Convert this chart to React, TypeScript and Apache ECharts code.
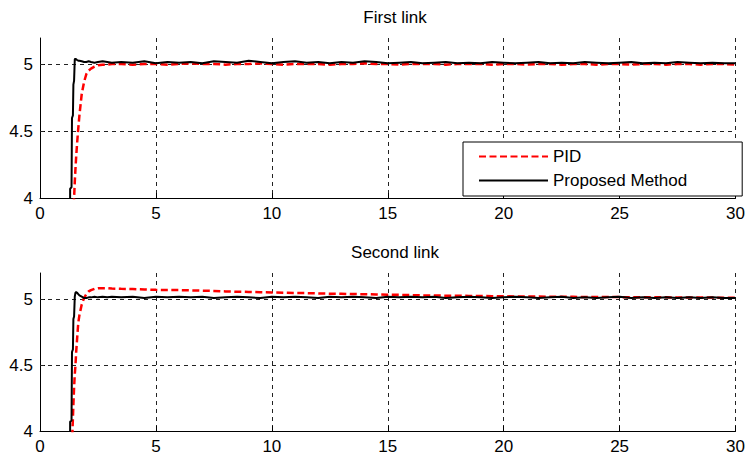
import React, { useEffect, useRef } from "react";
import * as echarts from "echarts";

// time samples (s)
const times = [
  1.28, 1.30, 1.36, 1.38, 1.42, 1.44, 1.47, 1.50, 1.53, 1.56,
  1.60, 1.65, 1.70, 1.80, 1.90, 2.00, 2.10, 2.20, 2.35, 2.50,
  2.70, 2.90, 3.10,
  3.5, 4.0, 4.5, 5.0, 5.5, 6.0, 6.5, 7.0, 7.5, 8.0,
  8.5, 9.0, 9.5, 10.0, 10.5, 11.0, 11.5, 12.0, 12.5, 13.0,
  13.5, 14.0, 14.5, 15.0, 15.5, 16.0, 16.5, 17.0, 17.5, 18.0,
  18.5, 19.0, 19.5, 20.0, 20.5, 21.0, 21.5, 22.0, 22.5, 23.0,
  23.5, 24.0, 24.5, 25.0, 25.5, 26.0, 26.5, 27.0, 27.5, 28.0,
  28.5, 29.0, 29.5, 30.0,
];

// First link
const pidFirst = [
  3.0, 3.2, 3.5, 3.6, 3.8, 3.9, 4.0, 4.12, 4.22, 4.31,
  4.41, 4.52, 4.62, 4.78, 4.87, 4.93, 4.955, 4.97, 4.985, 4.995,
  5.0, 5.0, 5.005,
  5.005, 5.0, 5.005, 5.005, 5.0, 5.005, 5.01, 5.005, 5.005, 5.0,
  5.005, 5.005, 5.01, 5.005, 5.0, 5.005, 5.005, 5.005, 5.0, 5.005,
  5.005, 5.01, 5.005, 5.005, 5.0, 5.005, 5.005, 5.005, 5.0, 5.005,
  5.005, 5.005, 5.0, 5.005, 5.005, 5.0, 5.005, 5.005, 5.0, 5.005,
  5.005, 5.0, 5.005, 5.005, 5.0, 5.005, 5.005, 5.0, 5.005, 5.005,
  5.0, 5.005, 5.005, 5.0,
];
const proposedFirst = [
  3.0, 4.07, 4.08, 4.6, 4.62, 4.85, 4.88, 5.04, 5.045, 5.04,
  5.035, 5.03, 5.03, 5.025, 5.02, 5.02, 5.025, 5.02, 5.015, 5.02,
  5.025, 5.02, 5.015,
  5.02, 5.015, 5.025, 5.01, 5.02, 5.015, 5.02, 5.01, 5.025, 5.02,
  5.015, 5.03, 5.02, 5.01, 5.02, 5.025, 5.015, 5.02, 5.01, 5.02,
  5.015, 5.025, 5.02, 5.01, 5.015, 5.02, 5.01, 5.015, 5.02, 5.01,
  5.015, 5.01, 5.02, 5.015, 5.01, 5.015, 5.02, 5.01, 5.015, 5.01,
  5.02, 5.015, 5.01, 5.015, 5.02, 5.01, 5.015, 5.01, 5.02, 5.015,
  5.01, 5.015, 5.01, 5.01,
];

// Second link
const pidSecond = [
  3.0, 3.2, 3.7, 3.9, 4.1, 4.2, 4.33, 4.43, 4.5, 4.6,
  4.7, 4.82, 4.88, 4.96, 5.01, 5.04, 5.06, 5.07, 5.08, 5.085,
  5.085, 5.085, 5.082,
  5.08, 5.078, 5.075, 5.072, 5.07, 5.07, 5.068, 5.066, 5.064, 5.06,
  5.058, 5.056, 5.054, 5.052, 5.05, 5.048, 5.047, 5.045, 5.043, 5.042,
  5.04, 5.039, 5.037, 5.035, 5.034, 5.032, 5.03, 5.029, 5.028, 5.027,
  5.026, 5.025, 5.024, 5.023, 5.022, 5.022, 5.021, 5.02, 5.02, 5.019,
  5.018, 5.018, 5.017, 5.017, 5.016, 5.016, 5.015, 5.015, 5.014, 5.014,
  5.013, 5.013, 5.012, 5.012,
];
const proposedSecond = [
  3.0, 4.07, 4.08, 4.6, 4.62, 4.85, 4.87, 5.02, 5.05, 5.055,
  5.05, 5.04, 5.03, 5.02, 5.01, 5.01, 5.015, 5.015, 5.02, 5.015,
  5.02, 5.015, 5.02,
  5.015, 5.02, 5.01, 5.02, 5.015, 5.02, 5.015, 5.02, 5.01, 5.015,
  5.02, 5.015, 5.01, 5.02, 5.015, 5.02, 5.015, 5.01, 5.02, 5.015,
  5.02, 5.015, 5.01, 5.02, 5.015, 5.02, 5.015, 5.02, 5.01, 5.015,
  5.02, 5.015, 5.01, 5.015, 5.02, 5.015, 5.01, 5.015, 5.02, 5.01,
  5.015, 5.01, 5.015, 5.02, 5.01, 5.015, 5.01, 5.015, 5.01, 5.015,
  5.01, 5.015, 5.01, 5.01,
];

const xTicks = [0, 5, 10, 15, 20, 25, 30];
const yTicks = [4, 4.5, 5];
const yGrid = [4.5, 5];
const titles = ["First link", "Second link"];
const legendNames = ["PID", "Proposed Method"];

const FONT = "'Liberation Sans', Arial, sans-serif";

export default function App() {
  const ref = useRef<HTMLDivElement>(null);
  useEffect(() => {
    if (!ref.current) return;
    const chart = echarts.init(ref.current, undefined, { renderer: "svg" });
    const pair = (vals: number[]) => times.map((t, i) => [t, vals[i]]);
    const gridDefs = [
      { left: 40, top: 38, width: 700, height: 160 },
      { left: 40, top: 273, width: 700, height: 158 },
    ];
    const gridLine = { color: "#222", type: [4, 4], width: 1 };
    const xAxis = gridDefs.map((_, i) => ({
      type: "value",
      gridIndex: i,
      min: xTicks[0],
      max: xTicks[xTicks.length - 1],
      interval: 5,
      axisLine: { show: true, lineStyle: { color: "#000", width: 1 } },
      axisTick: { show: true, inside: true, length: 5, lineStyle: { color: "#000" } },
      axisLabel: { color: "#000", fontSize: 17, fontFamily: FONT, margin: 7 },
      splitLine: { show: true, lineStyle: gridLine },
    }));
    const yAxis = gridDefs.map((_, i) => ({
      type: "value",
      gridIndex: i,
      min: 4,
      max: 5.2,
      interval: 0.5,
      axisLine: { show: true, lineStyle: { color: "#000", width: 1 } },
      axisTick: { show: true, inside: true, length: 5, customValues: yTicks, lineStyle: { color: "#000" } },
      axisLabel: { color: "#000", fontSize: 17, fontFamily: FONT, margin: 7, customValues: yTicks },
      splitLine: { show: false },
    }));
    const mk = (name: string, vals: number[], idx: number, isPid: boolean, withGrid: boolean) => ({
      type: "line",
      name,
      xAxisIndex: idx,
      yAxisIndex: idx,
      data: pair(vals),
      showSymbol: false,
      symbol: "none",
      clip: true,
      z: isPid ? 3 : 4,
      lineStyle: isPid
        ? { color: "#ff0000", width: 2.5, type: [7, 3.5] }
        : { color: "#000000", width: 2 },
      itemStyle: { color: isPid ? "#ff0000" : "#000000" },
      markLine: withGrid
        ? {
            silent: true,
            symbol: "none",
            z: 1,
            label: { show: false },
            lineStyle: gridLine,
            data: yGrid.map((v) => ({ yAxis: v })),
          }
        : undefined,
    });
    chart.setOption({
      animation: false,
      backgroundColor: "#ffffff",
      textStyle: { fontFamily: FONT },
      title: [
        { text: titles[0], left: 390, top: 4, textAlign: "center", textStyle: { fontSize: 17, fontWeight: "normal", color: "#000", fontFamily: FONT } },
        { text: titles[1], left: 390, top: 239, textAlign: "center", textStyle: { fontSize: 17, fontWeight: "normal", color: "#000", fontFamily: FONT } },
      ],
      legend: {
        data: legendNames,
        orient: "vertical",
        left: 463,
        top: 142,
        itemWidth: 69,
        itemHeight: 18,
        itemGap: 7,
        padding: [6, 55, 7, 15],
        backgroundColor: "#ffffff",
        borderColor: "#000",
        borderWidth: 1,
        borderRadius: 0,
        itemStyle: { opacity: 0 },
        textStyle: { fontSize: 17, color: "#000", fontFamily: FONT },
      },
      grid: gridDefs,
      xAxis,
      yAxis,
      series: [
        mk(legendNames[0], pidFirst, 0, true, true),
        mk(legendNames[1], proposedFirst, 0, false, false),
        mk(legendNames[0], pidSecond, 1, true, true),
        mk(legendNames[1], proposedSecond, 1, false, false),
      ],
    });
    return () => chart.dispose();
  }, []);
  return (
    <div
      ref={ref}
      style={{ position: "fixed", left: 0, top: 0, width: 748, height: 455, background: "#fff" }}
    />
  );
}
